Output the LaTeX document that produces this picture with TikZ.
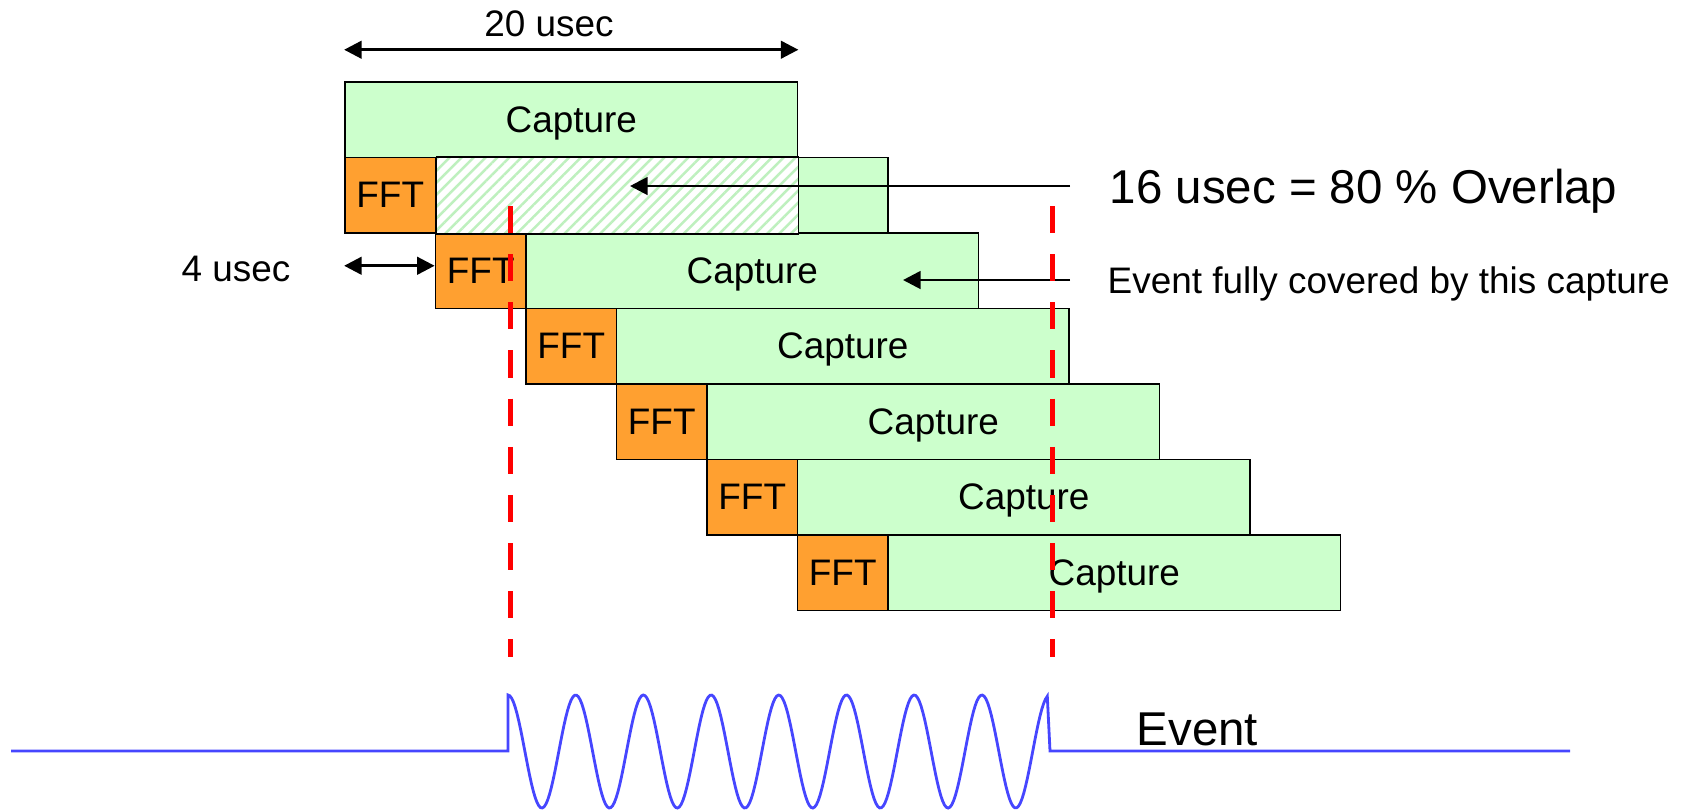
\documentclass[tikz,border=0pt]{standalone}
\usepackage{fontspec}
\setmainfont{Liberation Sans}
\usetikzlibrary{arrows.meta,patterns.meta}
\definecolor{capgreen}{RGB}{204,255,204}
\definecolor{fftorange}{RGB}{255,160,48}
\definecolor{hatchgreen}{RGB}{190,240,190}
\definecolor{evblue}{RGB}{70,70,255}
\tikzset{
  capbox/.style={draw, line width=0.5pt, fill=capgreen, minimum width=4.525cm,
    minimum height=0.755cm, inner sep=0pt, text height=0.72em, text depth=0pt,
    font=\fontsize{10.5}{12}\selectfont},
  fftbox/.style={draw, line width=0.5pt, fill=fftorange, minimum width=0.905cm,
    minimum height=0.755cm, inner sep=0pt, text height=0.72em, text depth=0pt,
    font=\fontsize{10.5}{12}\selectfont},
  dimarrow/.style={{Triangle[length=5pt,width=5pt]}-{Triangle[length=5pt,width=5pt]}, line width=0.8pt},
  ptr/.style={-{Triangle[length=5pt,width=5pt]}, line width=0.8pt},
  evline/.style={red, line width=1.4pt, dash pattern=on 7.7pt off 6pt},
  wave/.style={evblue, line width=0.8pt},
  lbl/.style={font=\fontsize{10.5}{12}\selectfont, inner sep=0pt, text depth=0pt},
  biglbl/.style={font=\fontsize{13.5}{16}\selectfont, inner sep=0pt, text depth=0pt},
}
\begin{document}
\begin{tikzpicture}
    \useasboundingbox (0,0) rectangle (16.89,-8.10);

    \node[capbox] (cap0) at (5.7125, -1.1975) {Capture};
    \node[fftbox] (fft1) at (3.9025, -1.9525) {FFT};
    \node[capbox] (cap1) at (6.6175, -1.9525) {};
    \node[fftbox] (fft2) at (4.8075, -2.7075) {FFT};
    \node[capbox] (cap2) at (7.5225, -2.7075) {Capture};
    \node[fftbox] (fft3) at (5.7125, -3.4625) {FFT};
    \node[capbox] (cap3) at (8.4275, -3.4625) {Capture};
    \node[fftbox] (fft4) at (6.6175, -4.2175) {FFT};
    \node[capbox] (cap4) at (9.3325, -4.2175) {Capture};
    \node[fftbox] (fft5) at (7.5225, -4.9725) {FFT};
    \node[capbox] (cap5) at (10.2375, -4.9725) {Capture};
    \node[fftbox] (fft6) at (8.4275, -5.7275) {FFT};
    \node[capbox] (cap6) at (11.1425, -5.7275) {Capture};

    \fill[white] (fft1.north east) rectangle (cap0.south east |- fft1.south east);
    \path[pattern={Lines[angle=45,distance=2.4pt,line width=0.7pt]}, pattern color=hatchgreen]
        (fft1.north east) rectangle (cap0.south east |- fft1.south east);
    \draw[line width=0.5pt] (fft1.north east) rectangle (cap0.south east |- fft1.south east);

    \node[lbl] (t20) at (5.49, -0.24) {20 usec};
    \draw[dimarrow] ([yshift=0.314cm]cap0.north west) -- ([yshift=0.314cm]cap0.north east);

    \node[lbl] (t4) at (2.36, -2.69) {4 usec};
    \draw[dimarrow] ([yshift=0.05cm]fft2.west -| fft1.west) -- ([yshift=0.05cm]fft2.west);

    \node[biglbl, anchor=west] (ovl) at (11.09, -1.86) {16 usec = 80 \% Overlap};
    \coordinate (ovltip) at (6.30, -1.86);
    \draw[ptr] ([xshift=-0.39cm]ovl.west) -- (ovltip);

    \node[lbl, anchor=west] (cov) at (11.07, -2.80) {Event fully covered by this capture};
    \coordinate (covtip) at (9.03, -2.80);
    \draw[ptr] ([xshift=-0.37cm]cov.west) -- (covtip);

    \coordinate (ev1a) at (5.106, -2.06);
    \coordinate (ev1b) at (5.106, -6.57);
    \coordinate (ev2a) at (10.524, -2.06);
    \coordinate (ev2b) at (10.524, -6.57);
    \draw[evline] (ev1a) -- (ev1b);
    \draw[evline] (ev2a) -- (ev2b);

    \coordinate (base0) at (0.11, -7.51);
    \coordinate (base1) at (5.08, -7.51);
    \coordinate (base2) at (10.50, -7.51);
    \coordinate (base3) at (15.70, -7.51);
    \draw[wave] (base0) -- (base1) -- (5.08, -6.95)
        -- plot[domain=0:7.97, samples=300] ({5.08+0.677*\x}, {-7.515+0.565*cos(360*\x)})
        -- (base2) -- (base3);
    \node[biglbl, anchor=west] (ev) at (11.36, -7.29) {Event};
\end{tikzpicture}
\end{document}
